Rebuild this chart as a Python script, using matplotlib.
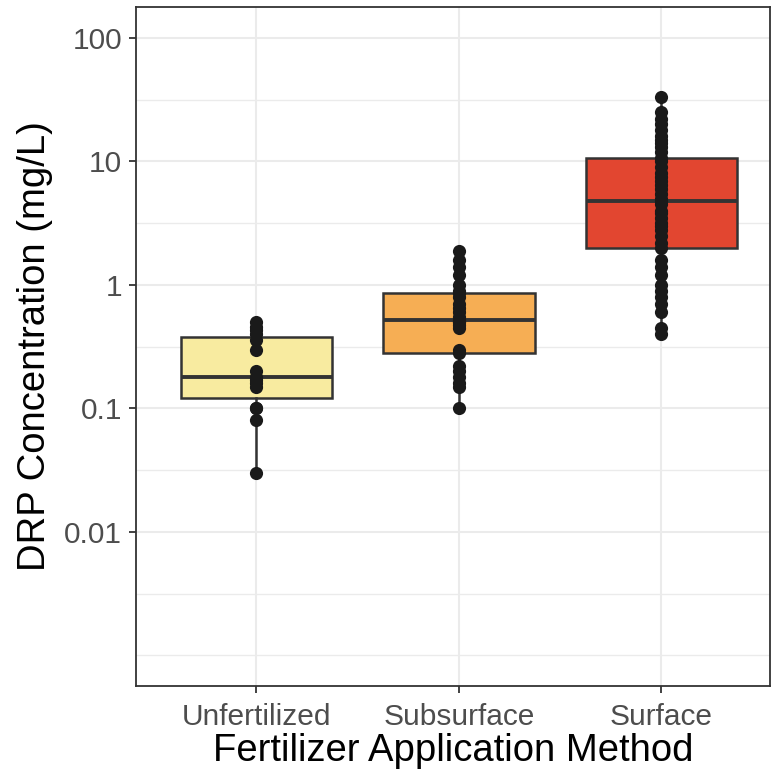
import numpy as np
import matplotlib.pyplot as plt
from matplotlib import cbook

methods = ["Unfertilized", "Subsurface", "Surface"]
fills = ["#F8EBA0", "#F6AE54", "#E24630"]

# DRP values (mg/L)
unfertilized = [0.03, 0.08, 0.1, 0.1, 0.15, 0.16, 0.17, 0.18, 0.2, 0.3,
                0.36, 0.4, 0.43, 0.46, 0.5]
subsurface = [0.1, 0.15, 0.16, 0.18, 0.2, 0.22, 0.28, 0.3, 0.45, 0.47,
              0.5, 0.5, 0.52, 0.55, 0.6, 0.65, 0.7, 0.8, 0.86, 0.9,
              1.0, 1.2, 1.4, 1.6, 1.9]
surface = [0.4, 0.45, 0.6, 0.7, 0.8, 0.9, 1.0, 1.2, 1.4, 1.6,
           2.0, 2.2, 2.5, 2.8, 3.0, 3.2, 3.5, 3.8, 4.0, 4.5,
           4.8, 5.0, 5.5, 6.0, 6.5, 7.0, 7.5, 8.0, 9.0, 10.0,
           10.6, 12, 13, 14, 15, 16, 18, 20, 22, 25, 33]

major_ticks = [0.01, 0.1, 1, 10, 100]
major_labels = ["0.01", "0.1", "1", "10", "100"]
minor_ticks = [0.001, 10 ** -2.5, 10 ** -1.5, 10 ** -0.5, 10 ** 0.5, 10 ** 1.5]

plt.rcParams["font.family"] = ["Liberation Sans", "DejaVu Sans"]

fig = plt.figure(figsize=(7.72, 7.77), dpi=100)
ax = fig.add_axes([136 / 772, 1 - 686 / 777, 634 / 772, 679 / 777])
ax.set_yscale("log")
ax.set_ylim(0.000566, 178)
ax.set_xlim(0.405, 3.536)

# box stats computed on log scale like ggplot's scale_y_log10
data = [unfertilized, subsurface, surface]
stats = []
for vals in data:
    s = cbook.boxplot_stats(np.log10(vals), whis=1.5)[0]
    for k in ("med", "q1", "q3", "whislo", "whishi"):
        s[k] = 10 ** s[k]
    s["fliers"] = []
    stats.append(s)

edge = "#333333"
bp = ax.bxp(stats, positions=[1, 2, 3], widths=0.75, patch_artist=True,
            showcaps=False, showfliers=False, manage_ticks=False,
            boxprops=dict(edgecolor=edge, linewidth=1.8),
            medianprops=dict(color=edge, linewidth=2.8),
            whiskerprops=dict(color=edge, linewidth=1.8))
for patch, c in zip(bp["boxes"], fills):
    patch.set_facecolor(c)

for i, vals in enumerate(data):
    ax.scatter(np.full(len(vals), i + 1), vals, s=90, color="#1a1a1a",
               zorder=4, linewidths=0)

ax.set_yticks(major_ticks, labels=major_labels)
ax.set_yticks(minor_ticks, minor=True)
ax.yaxis.set_minor_formatter(plt.NullFormatter())
ax.set_xticks([1, 2, 3], labels=methods)

ax.set_axisbelow(True)
ax.grid(True, which="major", color="#EBEBEB", linewidth=1.5)
ax.grid(True, which="minor", axis="y", color="#EBEBEB", linewidth=1.0)

for sp in ax.spines.values():
    sp.set_color(edge)
    sp.set_linewidth(1.3)
ax.tick_params(which="major", direction="out", length=5, width=1.3,
               color=edge, labelcolor="#4D4D4D", labelsize=21.5, pad=5)
ax.tick_params(axis="x", which="major", pad=7)
ax.tick_params(which="minor", length=0)

ax.set_xlabel("Fertilizer Application Method", fontsize=27.5, labelpad=2)
ax.set_ylabel("DRP Concentration (mg/L)", fontsize=27.5, labelpad=8)

fig.savefig("out.png", dpi=100)
